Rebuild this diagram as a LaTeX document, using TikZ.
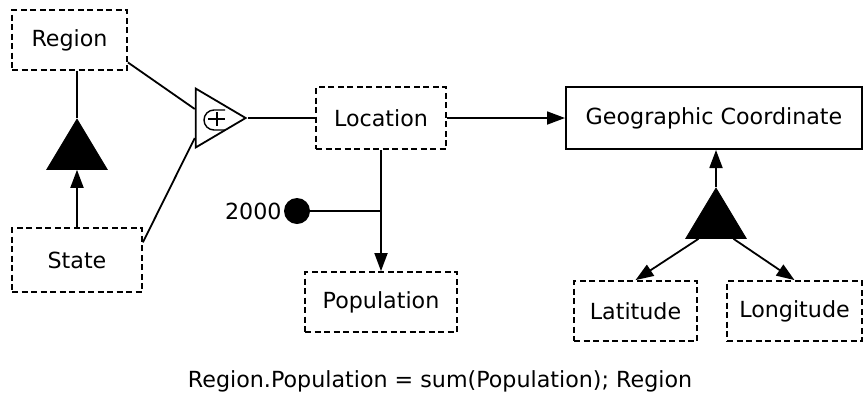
\documentclass[tikz,border=0pt]{standalone}
\usepackage{fontspec}
\setmainfont{DejaVu Sans}
\usetikzlibrary{arrows.meta,shapes.geometric}

\begin{document}
\begin{tikzpicture}[x=1pt, y=-1pt,
  every node/.style={font=\fontsize{22.2}{26}\selectfont},
  entity/.style={draw, dash pattern=on 6pt off 3.5pt, line width=1.8pt, inner sep=0pt},
  solidentity/.style={draw, line width=2pt, inner sep=0pt},
  aggtri/.style={isosceles triangle, isosceles triangle stretches, draw, fill=black,
    line width=1pt, inner sep=0pt, minimum width=60pt, minimum height=50pt},
  link/.style={line width=1.8pt},
  arrow/.style={line width=1.8pt, -{Triangle[length=18pt, width=13pt]}}]
\useasboundingbox (0,0) rectangle (866,397);

% entities
\node[entity, minimum width=115pt, minimum height=60pt] (region) at (69.5,40) {Region};
\node[entity, minimum width=130pt, minimum height=64pt] (state) at (77,260) {State};
\node[entity, minimum width=130pt, minimum height=62pt] (location) at (381,118) {Location};
\node[entity, minimum width=152pt, minimum height=60pt] (population) at (381,302) {Population};
\node[solidentity, minimum width=296pt, minimum height=62pt] (geo) at (714,118) {Geographic Coordinate};
\node[entity, minimum width=123pt, minimum height=60pt] (latitude) at (635.5,311) {Latitude};
\node[entity, minimum width=135pt, minimum height=60pt] (longitude) at (794.5,311) {Longitude};

% aggregation triangles
\node[aggtri, shape border rotate=90, anchor=apex] (regionagg) at (77,118) {};
\node[aggtri, shape border rotate=90, anchor=apex] (geoagg) at (716,187) {};

% cover symbol
\node[isosceles triangle, isosceles triangle stretches, draw, line width=1.8pt, inner sep=0pt,
  minimum width=59pt, minimum height=50pt, anchor=apex] (cover) at (248,118) {};
\draw[line width=1.4pt] (225,110) -- (214,110) arc[start angle=90, end angle=270, radius=10pt] -- (225,130);
\draw[line width=1.4pt] (208,119) -- (225,119) (217,112) -- (217,126);

% time stamp
\node[circle, fill=black, minimum size=26pt, inner sep=0pt] (year) at (297,211) {};
\node[anchor=east, inner sep=2pt] (yearlabel) at (year.west) {2000};

% connectors
\draw[link] (regionagg.apex |- region.south) -- (regionagg.apex);
\draw[arrow] (state.north -| regionagg.apex) -- (regionagg.south);
\draw[link] (region.-21) -- ([yshift=9pt]cover.lower side);
\draw[link] (state.15) -- ([yshift=-20pt]cover.lower side);
\draw[link] (cover.apex) -- (location.west);
\draw[arrow] (location.east) -- (geo.west);
\draw[arrow] (location.south) -- (population.north);
\draw[link] (year) -- (year -| location.south);
\draw[arrow] (geoagg.apex) -- (geoagg.apex |- geo.south);
\draw[arrow] (geoagg.south west) -- (latitude.north);
\draw[arrow] (geoagg.south east) -- (longitude.north);

% constraint
\node (rule) at (440,381) {Region.Population = sum(Population); Region};
\end{tikzpicture}
\end{document}
